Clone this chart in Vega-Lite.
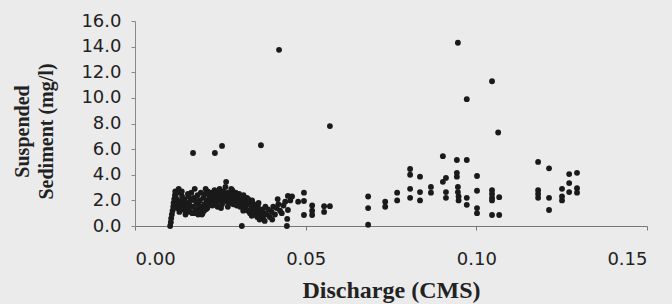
{
  "$schema": "https://vega.github.io/schema/vega-lite/v6.json",
  "width": 512,
  "height": 205,
  "autosize": {"type": "none"},
  "padding": {"left": 135, "top": 21, "right": 25, "bottom": 78},
  "background": "#ebebeb",
  "config": {"view": {"stroke": null}},
  "data": {"values": [
    {"q":0.0103,"s":0.0},{"q":0.0105,"s":0.3},{"q":0.0106,"s":0.6},{"q":0.0108,"s":0.9},{"q":0.0110,"s":1.2},{"q":0.0112,"s":1.5},{"q":0.0113,"s":1.8},{"q":0.0115,"s":2.1},{"q":0.0117,"s":2.4},{"q":0.0118,"s":2.7},{"q":0.0120,"s":2.2},{"q":0.0122,"s":1.7},{"q":0.0123,"s":1.4},{"q":0.0125,"s":2.0},{"q":0.0127,"s":2.6},{"q":0.0130,"s":1.1},{"q":0.0132,"s":1.5},{"q":0.0135,"s":1.9},{"q":0.0138,"s":2.3},{"q":0.0140,"s":1.3},{"q":0.0143,"s":1.7},{"q":0.0145,"s":2.1},{"q":0.0148,"s":0.9},{"q":0.0150,"s":1.4},{"q":0.0152,"s":1.8},{"q":0.0155,"s":2.5},{"q":0.0158,"s":1.2},{"q":0.0160,"s":1.6},{"q":0.0163,"s":2.0},{"q":0.0165,"s":2.6},{"q":0.0168,"s":1.0},{"q":0.0170,"s":1.5},{"q":0.0172,"s":2.2},{"q":0.0175,"s":2.9},{"q":0.0178,"s":1.3},{"q":0.0180,"s":1.8},{"q":0.0183,"s":2.4},{"q":0.0185,"s":0.9},{"q":0.0188,"s":1.2},{"q":0.0190,"s":2.0},{"q":0.0193,"s":2.6},{"q":0.0195,"s":1.5},{"q":0.0198,"s":1.0},{"q":0.0200,"s":2.2},{"q":0.0203,"s":1.7},{"q":0.0205,"s":2.5},{"q":0.0208,"s":1.3},{"q":0.0210,"s":2.0},{"q":0.0213,"s":2.7},{"q":0.0215,"s":1.6},{"q":0.0218,"s":2.3},{"q":0.0220,"s":1.9},{"q":0.0223,"s":2.6},{"q":0.0225,"s":2.1},{"q":0.0228,"s":2.4},{"q":0.0230,"s":1.8},{"q":0.0233,"s":2.8},{"q":0.0235,"s":2.2},{"q":0.0238,"s":2.5},{"q":0.0240,"s":1.9},{"q":0.0243,"s":2.6},{"q":0.0245,"s":2.2},{"q":0.0248,"s":2.9},{"q":0.0250,"s":2.0},{"q":0.0253,"s":2.5},{"q":0.0255,"s":1.7},{"q":0.0258,"s":2.3},{"q":0.0260,"s":2.7},{"q":0.0263,"s":2.0},{"q":0.0265,"s":3.05},{"q":0.0267,"s":3.45},{"q":0.0268,"s":2.4},{"q":0.0270,"s":1.9},{"q":0.0273,"s":2.6},{"q":0.0275,"s":2.2},{"q":0.0278,"s":1.8},{"q":0.0280,"s":2.5},{"q":0.0283,"s":2.1},{"q":0.0285,"s":2.8},{"q":0.0288,"s":1.7},{"q":0.0290,"s":2.3},{"q":0.0293,"s":2.0},{"q":0.0295,"s":2.6},{"q":0.0298,"s":1.6},{"q":0.0300,"s":2.2},{"q":0.0303,"s":1.9},{"q":0.0305,"s":2.5},{"q":0.0308,"s":1.5},{"q":0.0310,"s":2.1},{"q":0.0313,"s":0.0},{"q":0.0315,"s":1.8},{"q":0.0318,"s":2.4},{"q":0.0320,"s":1.4},{"q":0.0323,"s":2.0},{"q":0.0325,"s":1.6},{"q":0.0328,"s":2.2},{"q":0.0330,"s":1.2},{"q":0.0333,"s":1.8},{"q":0.0337,"s":1.0},{"q":0.0340,"s":1.5},{"q":0.0343,"s":2.0},{"q":0.0345,"s":1.3},{"q":0.0348,"s":1.7},{"q":0.0350,"s":0.9},{"q":0.0353,"s":1.4},{"q":0.0355,"s":1.1},{"q":0.0358,"s":0.7},{"q":0.0360,"s":1.5},{"q":0.0363,"s":1.0},{"q":0.0365,"s":0.5},{"q":0.0368,"s":1.2},{"q":0.0370,"s":0.8},{"q":0.0373,"s":1.3},{"q":0.0375,"s":0.6},{"q":0.0378,"s":1.0},{"q":0.0380,"s":0.4},{"q":0.0385,"s":0.9},{"q":0.0390,"s":1.3},{"q":0.0395,"s":0.7},{"q":0.0400,"s":1.1},{"q":0.0405,"s":1.5},{"q":0.0410,"s":0.9},{"q":0.0415,"s":1.4},{"q":0.0420,"s":1.7},{"q":0.0425,"s":1.2},{"q":0.0430,"s":1.0},{"q":0.0435,"s":1.6},{"q":0.0440,"s":1.9},{"q":0.0445,"s":0.0},{"q":0.0446,"s":0.55},{"q":0.0448,"s":1.25},{"q":0.0448,"s":2.35},{"q":0.0455,"s":2.0},{"q":0.0460,"s":2.3},{"q":0.0478,"s":1.9},
    {"q":0.0128,"s":2.9},{"q":0.0137,"s":2.7},{"q":0.0147,"s":1.2},{"q":0.0157,"s":2.3},{"q":0.0162,"s":1.1},{"q":0.0174,"s":1.0},{"q":0.0177,"s":2.0},{"q":0.0187,"s":1.6},{"q":0.0192,"s":1.2},{"q":0.0196,"s":0.9},{"q":0.0202,"s":1.2},{"q":0.0207,"s":2.9},{"q":0.0212,"s":1.4},{"q":0.0227,"s":1.6},{"q":0.0242,"s":1.5},{"q":0.0252,"s":1.4},{"q":0.0272,"s":1.5},{"q":0.0282,"s":2.9},{"q":0.0297,"s":2.4},{"q":0.0307,"s":1.9},{"q":0.0317,"s":1.2},{"q":0.0332,"s":2.1},{"q":0.0342,"s":0.8},{"q":0.0362,"s":1.8},{"q":0.0382,"s":1.5},{"q":0.0402,"s":0.5},{"q":0.0418,"s":2.1},
    {"q":0.0170,"s":5.7},{"q":0.0234,"s":5.7},{"q":0.0255,"s":6.25},{"q":0.0369,"s":6.3},{"q":0.0422,"s":13.75},{"q":0.0571,"s":7.8},{"q":0.0946,"s":14.3},{"q":0.0972,"s":9.9},{"q":0.1046,"s":11.3},{"q":0.1064,"s":7.3},
    {"q":0.0495,"s":2.6},{"q":0.0495,"s":1.95},{"q":0.0495,"s":0.86},{"q":0.0519,"s":1.6},{"q":0.0519,"s":1.2},{"q":0.0519,"s":0.86},{"q":0.0554,"s":1.55},{"q":0.0554,"s":1.1},{"q":0.0571,"s":1.55},{"q":0.0683,"s":2.3},{"q":0.0683,"s":1.4},{"q":0.0683,"s":0.1},{"q":0.0733,"s":1.9},{"q":0.0733,"s":1.5},{"q":0.0768,"s":2.6},{"q":0.0768,"s":2.0},{"q":0.0806,"s":4.45},{"q":0.0806,"s":4.0},{"q":0.0806,"s":2.9},{"q":0.0806,"s":2.2},{"q":0.0835,"s":3.85},{"q":0.0835,"s":2.65},{"q":0.0835,"s":2.0},{"q":0.0867,"s":3.05},{"q":0.0867,"s":2.6},{"q":0.0902,"s":5.45},{"q":0.0902,"s":3.45},{"q":0.0911,"s":3.75},{"q":0.0911,"s":2.65},{"q":0.0911,"s":2.2},{"q":0.0943,"s":5.15},{"q":0.0943,"s":4.15},{"q":0.0943,"s":3.85},{"q":0.0946,"s":3.05},{"q":0.0946,"s":2.65},{"q":0.0948,"s":2.3},{"q":0.0948,"s":2.0},{"q":0.0972,"s":5.15},{"q":0.0972,"s":2.2},{"q":0.0972,"s":1.65},{"q":0.1002,"s":3.9},{"q":0.1002,"s":2.75},{"q":0.1002,"s":1.4},{"q":0.1002,"s":1.0},{"q":0.1046,"s":2.8},{"q":0.1046,"s":2.5},{"q":0.1046,"s":2.2},{"q":0.1046,"s":2.0},{"q":0.1067,"s":2.25},{"q":0.1046,"s":0.86},{"q":0.1067,"s":0.86},{"q":0.1181,"s":5.0},{"q":0.1213,"s":4.5},{"q":0.1181,"s":2.8},{"q":0.1181,"s":2.5},{"q":0.1181,"s":2.2},{"q":0.1213,"s":2.2},{"q":0.1213,"s":1.25},{"q":0.1251,"s":2.9},{"q":0.1251,"s":2.3},{"q":0.1251,"s":2.0},{"q":0.1272,"s":4.05},{"q":0.1272,"s":3.35},{"q":0.1272,"s":2.65},{"q":0.1295,"s":4.15},{"q":0.1295,"s":2.95},{"q":0.1295,"s":2.6}
  ]},
  "mark": {"type": "circle", "size": 34, "color": "#1a1a1a", "opacity": 1},
  "encoding": {
    "x": {
      "field": "q", "type": "quantitative",
      "scale": {"domain": [0, 0.15], "nice": false, "zero": false},
      "axis": {
        "values": [0, 0.05, 0.1, 0.15], "format": ".2f", "grid": false,
        "domainColor": "#777", "tickColor": "#777", "tickSize": 4,
        "labelFont": "DejaVu Sans", "labelFontSize": 18, "labelColor": "#222", "labelPadding": 20,
        "title": "Discharge (CMS)", "titleFont": "Liberation Serif", "titleFontWeight": "bold",
        "titleFontSize": 24, "titleColor": "#222", "titlePadding": 10
      }
    },
    "y": {
      "field": "s", "type": "quantitative",
      "scale": {"domain": [0, 16], "nice": false},
      "axis": {
        "values": [0, 2, 4, 6, 8, 10, 12, 14, 16], "format": ".1f", "grid": false,
        "domainColor": "#888", "tickColor": "#888", "tickSize": 4,
        "labelFont": "DejaVu Sans", "labelFontSize": 18, "labelColor": "#222", "labelPadding": 10,
        "title": ["Suspended", "Sediment (mg/l)"], "titleFont": "Liberation Serif", "titleFontWeight": "bold",
        "titleFontSize": 20, "titleLineHeight": 24, "titleColor": "#222",
        "titleAngle": -90, "titleAlign": "center", "titleBaseline": "top",
        "titleX": -123, "titleY": 110
      }
    }
  }
}
